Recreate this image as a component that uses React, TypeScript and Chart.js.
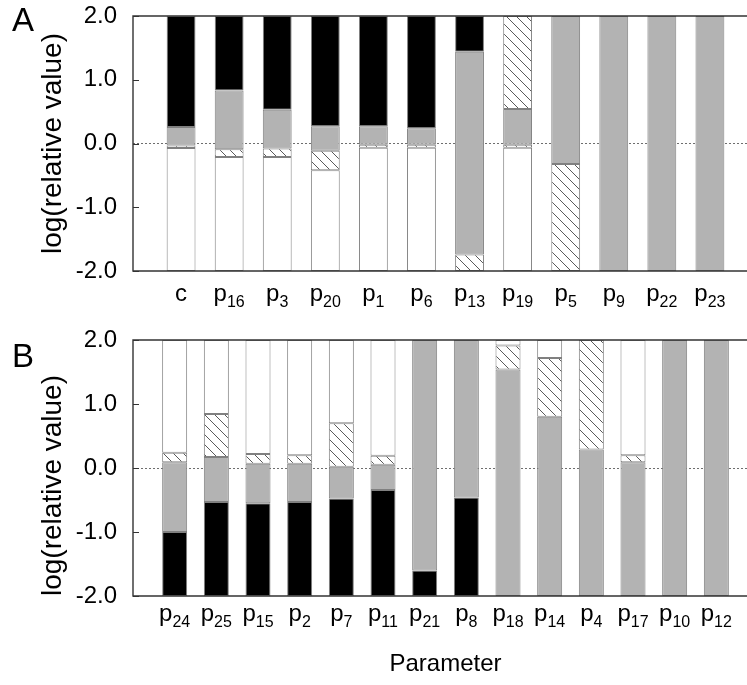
import React, { useEffect, useRef } from 'react';
import { Chart, registerables } from 'chart.js';

Chart.register(...registerables);

const FONT = '"Liberation Sans", Arial, Helvetica, sans-serif';
const Y_MIN = -2;
const Y_MAX = 2;
const yTickValues = [-2, -1, 0, 1, 2];

// ---- Panel A (bottom -> top: white, hatched, gray, hatched, black) ----
const categoriesA = ['c', 'p₁₆', 'p₃', 'p₂₀', 'p₁', 'p₆', 'p₁₃', 'p₁₉', 'p₅', 'p₉', 'p₂₂', 'p₂₃'];
const whiteTopA = [-0.07, -0.21, -0.21, -0.42, -0.065, -0.065, -2, -0.065, -2, -2, -2, -2];
const hatchTopA = [-0.03, -0.09, -0.08, -0.115, -0.02, -0.02, -1.74, -0.02, -0.32, -2, -2, -2];
const grayTopA = [0.26, 0.83, 0.53, 0.27, 0.27, 0.24, 1.44, 0.54, 2, 2, 2, 2];
const upperHatchTopA = [0.26, 0.83, 0.53, 0.27, 0.27, 0.24, 1.44, 2, 2, 2, 2, 2];

// ---- Panel B (bottom -> top: black, gray, hatched, white) ----
const categoriesB = ['p₂₄', 'p₂₅', 'p₁₅', 'p₂', 'p₇', 'p₁₁', 'p₂₁', 'p₈', 'p₁₈', 'p₁₄', 'p₄', 'p₁₇', 'p₁₀', 'p₁₂'];
const blackTopB = [-1.0, -0.53, -0.55, -0.53, -0.475, -0.345, -1.6, -0.46, -2, -2, -2, -2, -2, -2];
const grayTopB = [0.09, 0.17, 0.065, 0.065, 0.02, 0.05, 2, 2, 1.54, 0.8, 0.29, 0.09, 2, 2];
const hatchTopB = [0.24, 0.845, 0.22, 0.2, 0.7, 0.19, 2, 2, 1.915, 1.72, 2, 0.2, 2, 2];

const GRAY = '#b3b3b3';
const EDGE = '#808080';
const SUBS = '₀₁₂₃₄₅₆₇₈₉';

function seg(lo: number[] | number, hi: number[] | number, n: number) {
  const out: (number[] | null)[] = [null];
  for (let i = 0; i < n; i++) {
    const l = typeof lo === 'number' ? lo : lo[i];
    const h = typeof hi === 'number' ? hi : hi[i];
    out.push(h - l > 0.001 ? [l, h] : null);
  }
  out.push(null);
  return out;
}

function makeHatch(): CanvasPattern | string {
  const c = document.createElement('canvas');
  c.width = 10;
  c.height = 10;
  const g = c.getContext('2d');
  if (!g) return '#fff';
  g.fillStyle = '#fff';
  g.fillRect(0, 0, 10, 10);
  g.strokeStyle = '#5a5a5a';
  g.lineWidth = 1;
  g.beginPath();
  for (const dx of [-10, 0, 10]) {
    g.moveTo(dx - 1, -1);
    g.lineTo(dx + 11, 11);
  }
  g.stroke();
  const p = g.createPattern(c, 'repeat');
  return p || '#fff';
}

function splitLabel(lab: string) {
  let base = '';
  let sub = '';
  for (const ch of lab) {
    const k = SUBS.indexOf(ch);
    if (k >= 0) sub += String(k);
    else base += ch;
  }
  return { base, sub };
}

const framePlugin = {
  id: 'panelFrame',
  afterDatasetsDraw(chart: any, _args: any, opts: any) {
    const { ctx, chartArea: a, scales } = chart;
    const y = scales.y;
    const x = scales.x;
    ctx.save();
    // frame
    ctx.strokeStyle = '#333';
    ctx.lineWidth = 1.4;
    ctx.beginPath();
    ctx.moveTo(a.right + 20, a.top);
    ctx.lineTo(a.left, a.top);
    ctx.lineTo(a.left, a.bottom);
    ctx.lineTo(a.right + 20, a.bottom);
    ctx.stroke();
    // inward tick marks
    ctx.lineWidth = 1;
    ctx.beginPath();
    for (const v of yTickValues) {
      const py = Math.round(y.getPixelForValue(v)) + 0.5;
      ctx.moveTo(a.left, py);
      ctx.lineTo(a.left + 6, py);
    }
    ctx.stroke();
    // category labels with subscripts
    ctx.fillStyle = '#000';
    ctx.textBaseline = 'alphabetic';
    ctx.textAlign = 'left';
    const labels: string[] = chart.data.labels || [];
    const baseY = a.bottom + (opts.labelOffset || 30);
    labels.forEach((lab, i) => {
      if (!lab) return;
      const { base, sub } = splitLabel(lab);
      const px = x.getPixelForTick(i);
      ctx.font = `24px ${FONT}`;
      const wb = ctx.measureText(base).width;
      ctx.font = `16px ${FONT}`;
      const ws = sub ? ctx.measureText(sub).width : 0;
      const x0 = px - (wb + ws) / 2;
      ctx.font = `24px ${FONT}`;
      ctx.fillText(base, x0, baseY);
      if (sub) {
        ctx.font = `16px ${FONT}`;
        ctx.fillText(sub, x0 + wb, baseY + 6);
      }
    });
    // panel letter
    if (opts.letter) {
      ctx.font = `33px ${FONT}`;
      ctx.fillText(opts.letter, opts.x, opts.y);
    }
    ctx.restore();
  },
};

function barDataset(label: string, data: any, fill: any) {
  return {
    label,
    data,
    backgroundColor: fill,
    borderColor: EDGE,
    borderWidth: 1,
    borderSkipped: false as const,
    barPercentage: 0.6,
    categoryPercentage: 1,
  };
}

function makeOptions(p: {
  padTop: number;
  axisHeight: number;
  labelOffset: number;
  xTitle?: string;
  letter: string;
  letterY: number;
  yTitleAlign: 'center' | 'start';
}) {
  return {
    responsive: false,
    animation: false as const,
    layout: { padding: { top: p.padTop, right: 12, left: 0, bottom: 0 } },
    plugins: {
      legend: { display: false },
      tooltip: { enabled: false },
      panelFrame: { letter: p.letter, x: 12, y: p.letterY, labelOffset: p.labelOffset },
    },
    scales: {
      x: {
        type: 'category' as const,
        stacked: true,
        offset: false,
        grid: { display: false },
        border: { display: false },
        ticks: { display: false, autoSkip: false, maxRotation: 0, minRotation: 0 },
        title: p.xTitle
          ? {
              display: true,
              text: p.xTitle,
              color: '#000',
              font: { family: FONT, size: 24 },
              padding: { top: 0, bottom: 6 },
            }
          : { display: false },
        afterFit: (s: any) => {
          s.height = p.axisHeight;
          s.paddingLeft = 0;
          s.paddingRight = 0;
        },
      },
      y: {
        min: Y_MIN,
        max: Y_MAX,
        stacked: false,
        border: { display: false, dash: [2, 2] },
        grid: {
          drawTicks: false,
          lineWidth: 1,
          color: (c: any) => (c.tick && c.tick.value === 0 ? '#6e6e6e' : 'rgba(0,0,0,0)'),
        },
        ticks: {
          stepSize: 1,
          padding: 16,
          color: '#000',
          font: { family: FONT, size: 24 },
          callback: (v: any) => Number(v).toFixed(1),
        },
        title: {
          display: true,
          text: 'log(relative value)',
          align: p.yTitleAlign,
          color: '#000',
          font: { family: FONT, size: 28 },
          padding: { top: 36, bottom: 0 },
        },
        afterFit: (s: any) => {
          s.width = 133;
          s.paddingTop = 0;
          s.paddingBottom = 0;
        },
      },
    },
  };
}

export default function App() {
  const refA = useRef<HTMLCanvasElement>(null);
  const refB = useRef<HTMLCanvasElement>(null);

  useEffect(() => {
    if (!refA.current || !refB.current) return;
    const hatch = makeHatch();
    const nA = categoriesA.length;
    const nB = categoriesB.length;

    const chartA = new Chart(refA.current, {
      type: 'bar',
      data: {
        labels: ['', ...categoriesA, ''],
        datasets: [
          barDataset('white', seg(Y_MIN, whiteTopA, nA), '#ffffff'),
          barDataset('hatched', seg(whiteTopA, hatchTopA, nA), hatch),
          barDataset('gray', seg(hatchTopA, grayTopA, nA), GRAY),
          barDataset('hatched upper', seg(grayTopA, upperHatchTopA, nA), hatch),
          barDataset('black', seg(upperHatchTopA, Y_MAX, nA), '#000000'),
        ],
      },
      options: makeOptions({
        padTop: 16,
        axisHeight: 49,
        labelOffset: 30,
        letter: 'A',
        letterY: 30.7,
        yTitleAlign: 'center',
      }) as any,
      plugins: [framePlugin],
    });

    const chartB = new Chart(refB.current, {
      type: 'bar',
      data: {
        labels: ['', ...categoriesB, ''],
        datasets: [
          barDataset('black', seg(Y_MIN, blackTopB, nB), '#000000'),
          barDataset('gray', seg(blackTopB, grayTopB, nB), GRAY),
          barDataset('hatched', seg(grayTopB, hatchTopB, nB), hatch),
          barDataset('white', seg(hatchTopB, Y_MAX, nB), '#ffffff'),
        ],
      },
      options: makeOptions({
        padTop: 20,
        axisHeight: 89,
        labelOffset: 25,
        xTitle: 'Parameter',
        letter: 'B',
        letterY: 46.7,
        yTitleAlign: 'start',
      }) as any,
      plugins: [framePlugin],
    });

    return () => {
      chartA.destroy();
      chartB.destroy();
    };
  }, []);

  return (
    <div
      style={{
        position: 'fixed',
        left: 0,
        top: 0,
        width: 747,
        height: 685,
        overflow: 'hidden',
        background: '#fff',
      }}
    >
      <canvas ref={refA} width={770} height={320} style={{ position: 'absolute', left: 0, top: 0 }} />
      <canvas ref={refB} width={770} height={365} style={{ position: 'absolute', left: 0, top: 320 }} />
    </div>
  );
}
